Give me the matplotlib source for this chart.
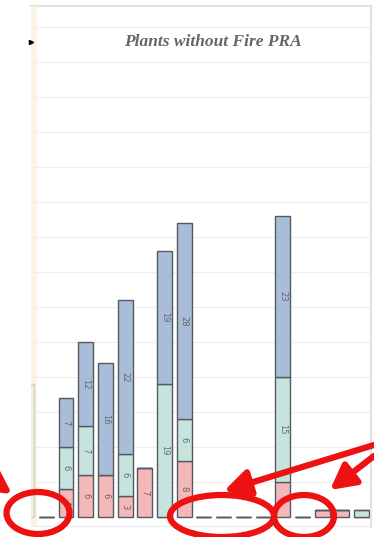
import numpy as np
import matplotlib.pyplot as plt
from matplotlib.patches import Ellipse

# Column values (index -2 is cut off at the left edge)
positions = list(range(-2, 16))
red_vals = [0, 0, 4, 6, 6, 3, 7, 0, 8, 0, 0, 0, 0, 5, 0, 1, 1, 0]
green_vals = [19, 0, 6, 7, 0, 6, 0, 19, 6, 0, 0, 0, 0, 15, 0, 0, 0, 1]
blue_vals = [0, 0, 7, 12, 16, 22, 0, 19, 28, 0, 0, 0, 0, 23, 0, 0, 0, 0]
title = 'Plants without Fire PRA'

# red markup drawn over the screenshot (figure pixels)
ellipses = [(38, 513, 63, 42), (222, 516, 104, 42), (304, 516, 60, 42)]
arrows = [((374, 445), (224, 491)), ((374, 456), (330, 490)), ((-20, 472), (12, 494))]

fig = plt.figure(figsize=(3.74, 5.37), dpi=100)
W, H = 374, 537
ax = fig.add_axes([31 / W, 1 - 527 / H, 340 / W, 521 / H])

red_c, green_c, blue_c = '#f4b8ba', '#c6e4dd', '#aabdd8'
edge = '#545a60'
x = np.array(positions)
r = np.array(red_vals)
g = np.array(green_vals)
b = np.array(blue_vals)

ax.bar(x, r, width=0.76, color=red_c, edgecolor=edge, linewidth=1.0, zorder=2)
ax.bar(x, g, width=0.76, bottom=r, color=green_c, edgecolor=edge, linewidth=1.0, zorder=2)
ax.bar(x, b, width=0.76, bottom=r + g, color=blue_c, edgecolor=edge, linewidth=1.0, zorder=2)

# segment labels, rotated like the original
for vals, base in ((r, np.zeros_like(r)), (g, r), (b, r + g)):
    for xi, v, b0 in zip(x, vals, base):
        if v >= 2 and xi >= 0:
            ax.text(xi, b0 + v / 2, str(v), rotation=270, ha='center', va='center',
                    fontsize=6, color='#666666', zorder=3)

ax.set_xlim(-1.777, 15.48)
ax.set_ylim(-1.43, 73)
ax.set_yticks(np.arange(5, 75, 5))
ax.yaxis.grid(True, color='#eeeeee', linewidth=0.8)
ax.set_axisbelow(True)
ax.tick_params(left=False, bottom=False, labelleft=False, labelbottom=False)
for s in ['left', 'bottom']:
    ax.spines[s].set_visible(False)
for s in ['top', 'right']:
    ax.spines[s].set_color('#e2e2e2')
    ax.spines[s].set_linewidth(1.5)
ax.axhline(-1.43, color='#e6e6e6', linewidth=1.2)

ax.text(0.535, 0.931, title, transform=ax.transAxes, ha='center', va='center',
        fontsize=12.5, fontweight='bold', fontstyle='italic', color='#666666',
        family='Liberation Serif')

# overlay in pixel coordinates for the yellow edge band and red markup
ov = fig.add_axes([0, 0, 1, 1], facecolor='none')
ov.set_xlim(0, W)
ov.set_ylim(H, 0)
ov.axis('off')
ov.fill_between([31, 37], 6, 527, color='#fbf1dc', alpha=0.8, zorder=1, linewidth=0)
ov.plot([31], [42], marker='>', color='black', markersize=3)
for cx, cy, w, h in ellipses:
    ov.add_patch(Ellipse((cx, cy), w, h, fill=False, edgecolor='#ee1111', linewidth=4.5, zorder=5))
for start, end in arrows:
    ov.annotate('', xy=end, xytext=start,
                arrowprops=dict(arrowstyle='-|>,head_length=1.5,head_width=0.8',
                                color='#ee1111', linewidth=4.5, shrinkA=0, shrinkB=0),
                zorder=5, annotation_clip=False)

fig.savefig('out.png', dpi=100)
